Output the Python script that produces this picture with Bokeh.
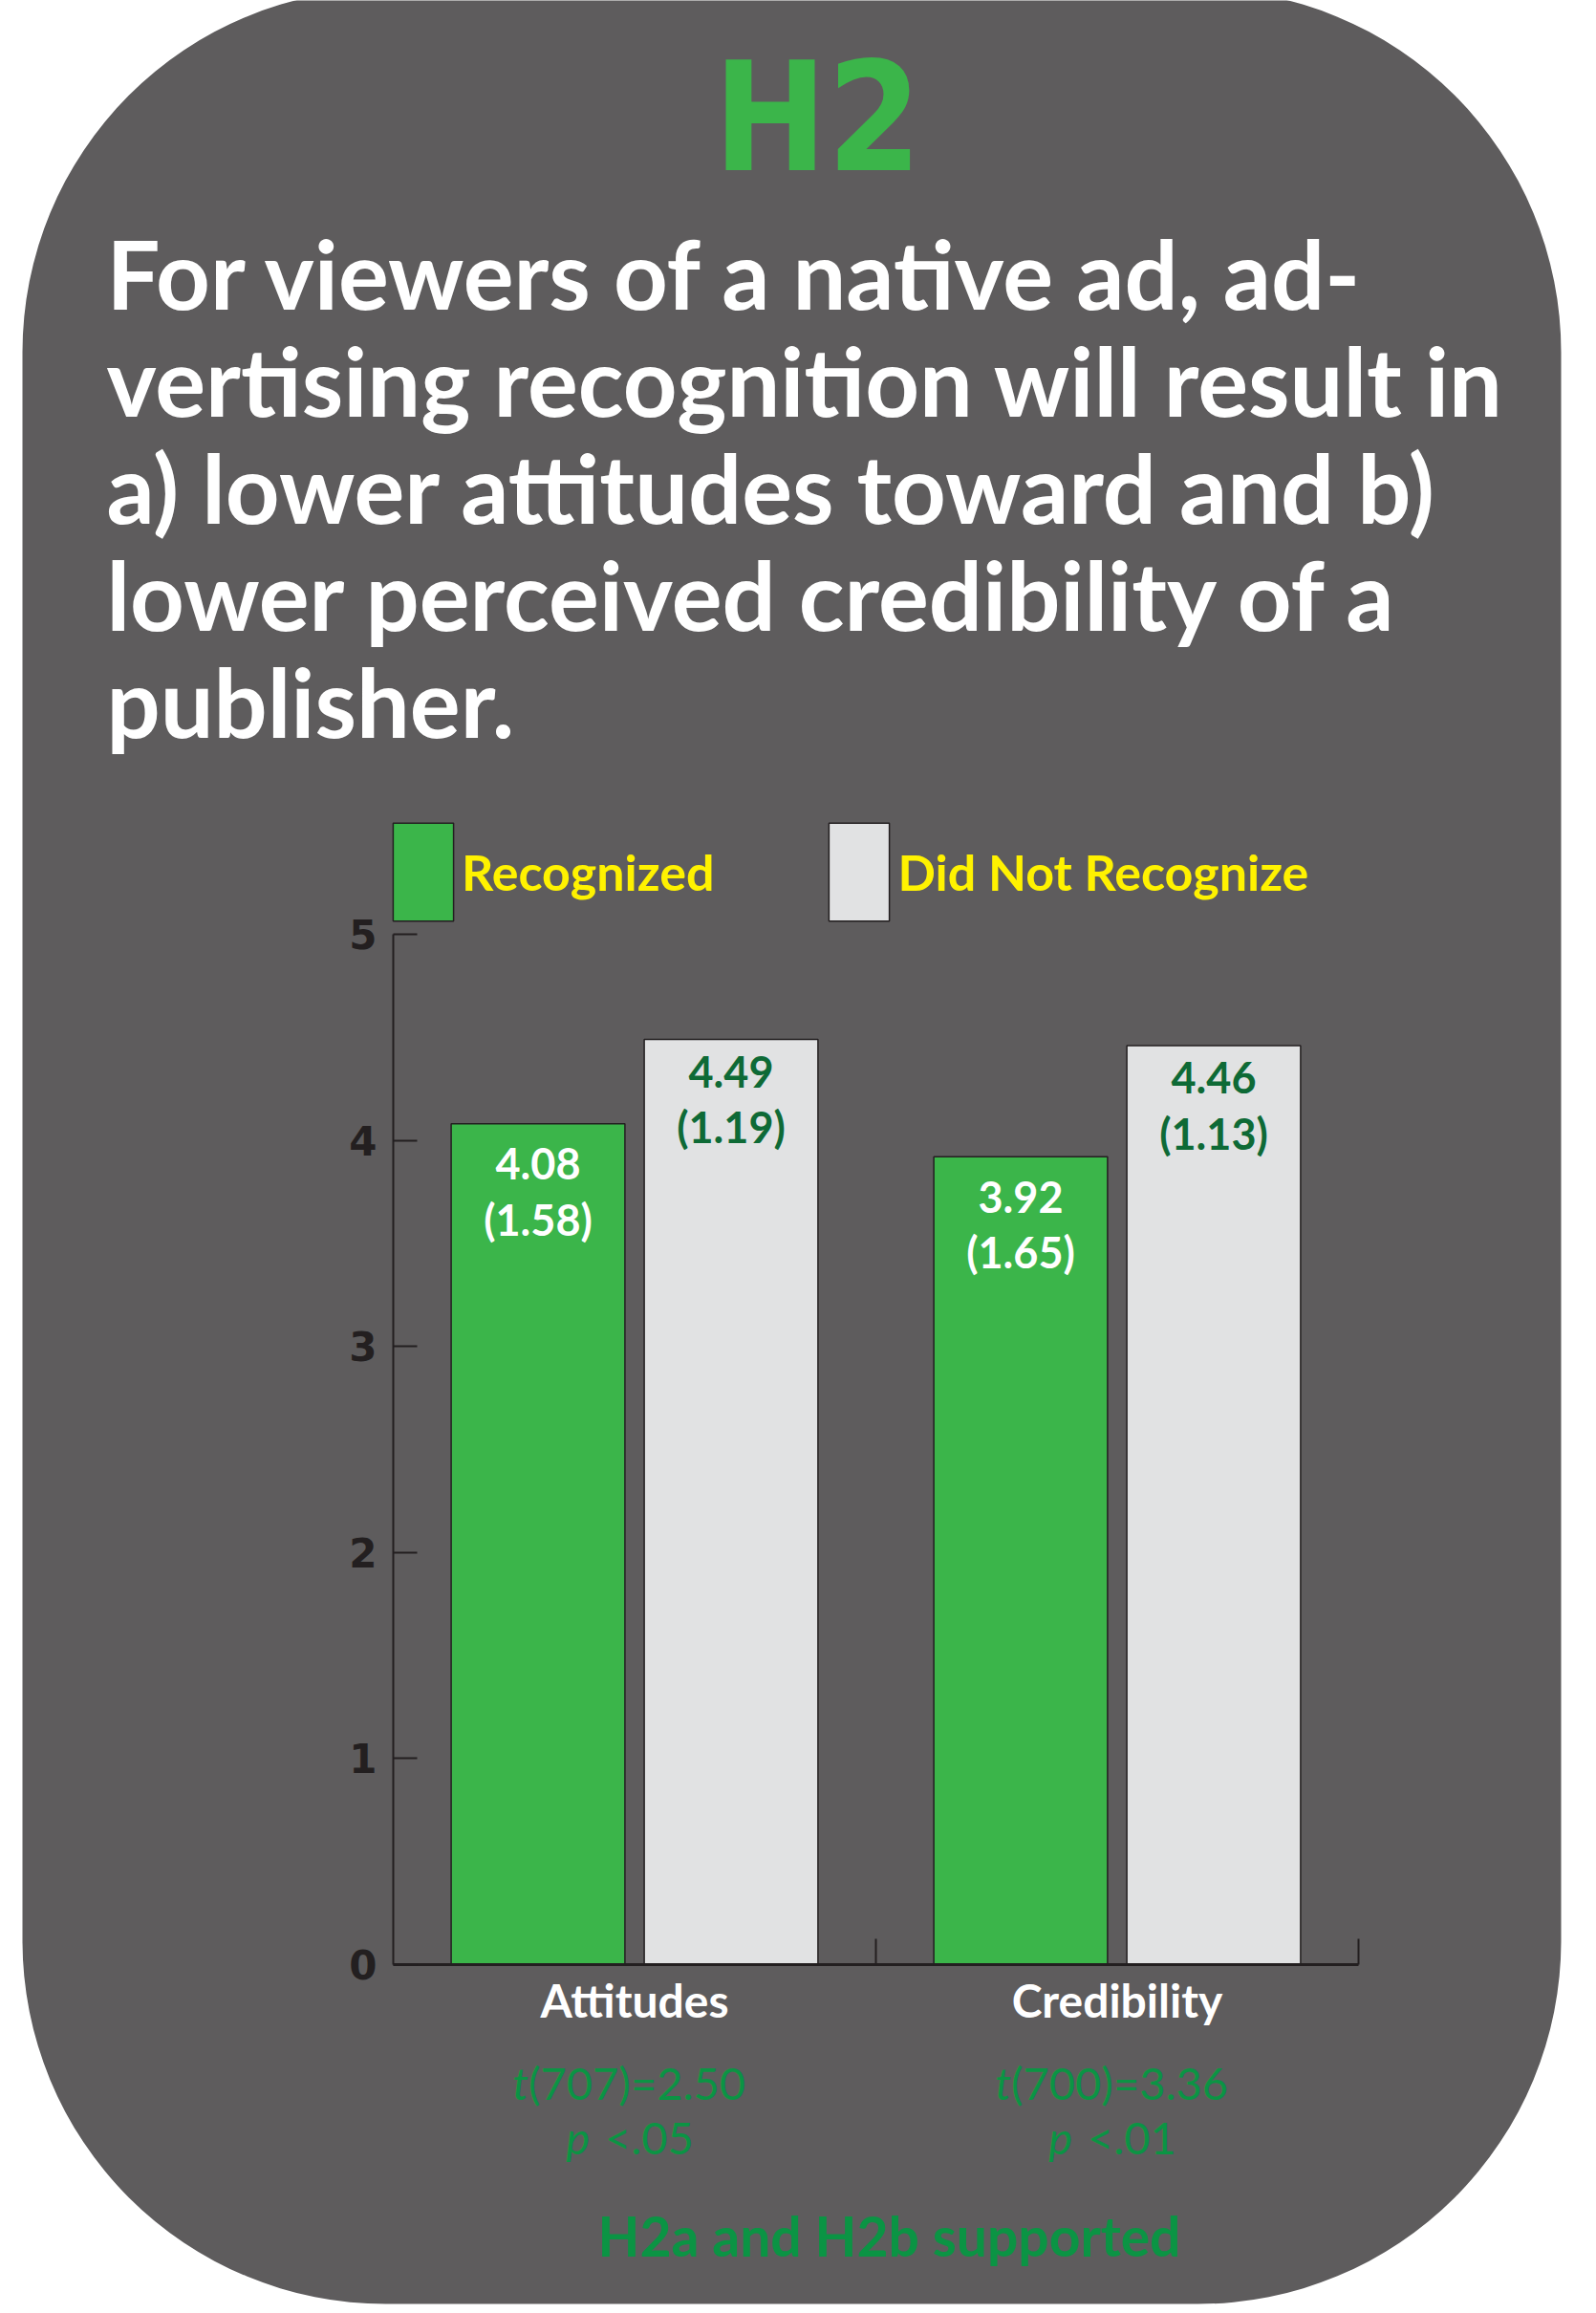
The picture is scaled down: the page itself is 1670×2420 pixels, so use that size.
from bokeh.plotting import figure
from bokeh.models import (Range1d, LinearAxis, FixedTicker, BoxAnnotation, Label,
                          ColumnDataSource, Legend, LegendItem)
from bokeh.transform import dodge
from bokeh.core.properties import value
from bokeh.embed import file_html
from bokeh.resources import INLINE

# ---------------- data ----------------
categories = ["Attitudes", "Credibility"]
series_names = ["Recognized", "Did Not Recognize"]
recognized_mean = [4.08, 3.92]
recognized_sd = [1.58, 1.65]
not_recognized_mean = [4.49, 4.46]
not_recognized_sd = [1.19, 1.13]
t_df = [707, 700]
t_value = ["2.50", "3.36"]
p_value = ["<.05", "<.01"]
y_ticks = [0, 1, 2, 3, 4, 5]
title_text = "H2"
hypothesis_lines = [
    "For viewers of a native ad, ad-",
    "vertising recognition will result in",
    "a) lower attitudes toward and b)",
    "lower perceived credibility of a",
    "publisher.",
]
conclusion = "H2a and H2b supported"

# ---------------- layout helpers (reference pixel geometry) ----------------
W, H = 1670, 2420
X0_PX, PX_PER_X = 411, 505.0
Y0_PX, PX_PER_Y = 2055, 215.6


def dx(px):
    return (px - X0_PX) / PX_PER_X


def dy(py):
    return (Y0_PX - py) / PX_PER_Y


BG = "#5e5c5d"
GREEN = "#3bb54a"
LIGHT = "#e1e2e3"
DARK = "#231f20"
DKGREEN = "#0e6a36"
STATGREEN = "#0b9444"
YELLOW = "#fff200"
FONT = "Lato"
HEAVY = "DejaVu Sans"
NARROW = "DejaVu Sans Condensed, Roboto Condensed, Noto Sans Condensed, Liberation Sans Narrow, Liberation Sans"

p = figure(width=W, height=H,
           x_range=Range1d(dx(0), dx(W)),
           y_range=Range1d(dy(H), dy(0)),
           x_axis_type=None, y_axis_type=None,
           toolbar_location=None, output_backend="svg",
           min_border=0, outline_line_color=None,
           background_fill_color="white", border_fill_color="white")

# rounded grey card
p.add_layout(BoxAnnotation(left=dx(23), right=dx(1633), top=dy(-12), bottom=dy(2410),
                           fill_color=BG, fill_alpha=1.0, line_alpha=0,
                           border_radius=380, level="underlay"))

# ---------------- bars ----------------
centers = [i + 0.5 for i in range(len(categories))]
src = ColumnDataSource(dict(
    cat=categories, xc=centers,
    rec=recognized_mean, nrec=not_recognized_mean,
    rec_lbl=[f"{m:.2f}" for m in recognized_mean],
    rec_sd_lbl=[f"({s:.2f})" for s in recognized_sd],
    nrec_lbl=[f"{m:.2f}" for m in not_recognized_mean],
    nrec_sd_lbl=[f"({s:.2f})" for s in not_recognized_sd],
    t_rest=[f"({d})={v}" for d, v in zip(t_df, t_value)],
    p_rest=p_value,
))
BAR_W, OFF = 0.36, 0.2
r1 = p.vbar(x=dodge("xc", -OFF), top="rec", bottom=0, width=BAR_W, source=src,
            fill_color=GREEN, line_color=DARK, line_width=1.5)
r2 = p.vbar(x=dodge("xc", OFF), top="nrec", bottom=0, width=BAR_W, source=src,
            fill_color=LIGHT, line_color=DARK, line_width=1.5)

lbl = dict(text_align="center", text_baseline="middle", text_font=value(FONT),
           text_font_style="bold", text_font_size="45px", source=src)
p.text(x=dodge("xc", -OFF), y="rec", text="rec_lbl", y_offset=42, text_color="white", **lbl)
p.text(x=dodge("xc", -OFF), y="rec", text="rec_sd_lbl", y_offset=100, text_color="white", **lbl)
p.text(x=dodge("xc", OFF), y="nrec", text="nrec_lbl", y_offset=34, text_color=DKGREEN, **lbl)
p.text(x=dodge("xc", OFF), y="nrec", text="nrec_sd_lbl", y_offset=92, text_color=DKGREEN, **lbl)

# category labels
p.text(x="xc", y=0, text="cat", y_offset=37, text_align="center", text_baseline="middle",
       text_font=value(FONT), text_font_style="bold", text_font_size="48px",
       text_color="white", source=src)

# statistics
stat = dict(text_baseline="middle", text_font=value(FONT), text_font_size="47px",
            text_color=STATGREEN, source=src)
p.text(x="xc", y=0, text=value("t"), x_offset=-111, y_offset=123, text_align="right",
       text_font_style="italic", **stat)
p.text(x="xc", y=0, text="t_rest", x_offset=-111, y_offset=123, text_align="left",
       text_font_style="normal", **stat)
p.text(x="xc", y=0, text=value("p"), x_offset=-47, y_offset=180, text_align="right",
       text_font_style="italic", **stat)
p.text(x="xc", y=0, text="p_rest", x_offset=-31, y_offset=180, text_align="left",
       text_font_style="normal", **stat)

p.text(x=[sum(centers) / len(centers)], y=[0], text=[conclusion], x_offset=14, y_offset=283,
       text_align="center", text_baseline="middle", text_font=value(FONT),
       text_font_style="bold", text_font_size="57px", text_color=STATGREEN)

# ---------------- axes ----------------
yax = LinearAxis(fixed_location=0, bounds=(0, max(y_ticks)), ticker=FixedTicker(ticks=y_ticks),
                 major_tick_in=25, major_tick_out=0, minor_tick_in=0, minor_tick_out=0,
                 axis_line_color=DARK, axis_line_width=2,
                 major_tick_line_color=DARK, major_tick_line_width=2,
                 major_label_standoff=17, major_label_text_font=HEAVY,
                 major_label_text_font_size="42px", major_label_text_font_style="bold",
                 major_label_text_color=DARK)
p.add_layout(yax, "left")

bounds_ticks = list(range(1, len(categories) + 1))
xax = LinearAxis(fixed_location=0, bounds=(0, len(categories)),
                 ticker=FixedTicker(ticks=bounds_ticks),
                 major_tick_in=27, major_tick_out=0, minor_tick_in=0, minor_tick_out=0,
                 axis_line_color=DARK, axis_line_width=3,
                 major_tick_line_color=DARK, major_tick_line_width=2,
                 major_label_overrides={t: "" for t in bounds_ticks})
p.add_layout(xax, "below")

# ---------------- legend ----------------
legend = Legend(items=[LegendItem(label=series_names[0], renderers=[r1]),
                       LegendItem(label=series_names[1], renderers=[r2])],
                orientation="horizontal", location=(403, 1444),
                glyph_width=79, glyph_height=128, label_standoff=1, spacing=112,
                padding=0, margin=0, background_fill_alpha=0, border_line_alpha=0,
                label_text_font=FONT, label_text_font_style="bold",
                label_text_font_size="52px", label_text_color=YELLOW)
p.add_layout(legend)

# ---------------- title + hypothesis ----------------
p.add_layout(Label(x=dx(855), y=dy(122), text=title_text, text_align="center",
                   text_baseline="middle", text_font=NARROW,
                   text_font_style="bold", text_font_size="158px", text_color=GREEN))
for i, line in enumerate(hypothesis_lines):
    p.add_layout(Label(x=dx(111), y=dy(285 + 112 * i), text=line, text_align="left",
                       text_baseline="middle", text_font=FONT, text_font_style="bold",
                       text_font_size="99px", text_color="white"))

open("out.html", "w").write(file_html(p, INLINE, "H2"))
